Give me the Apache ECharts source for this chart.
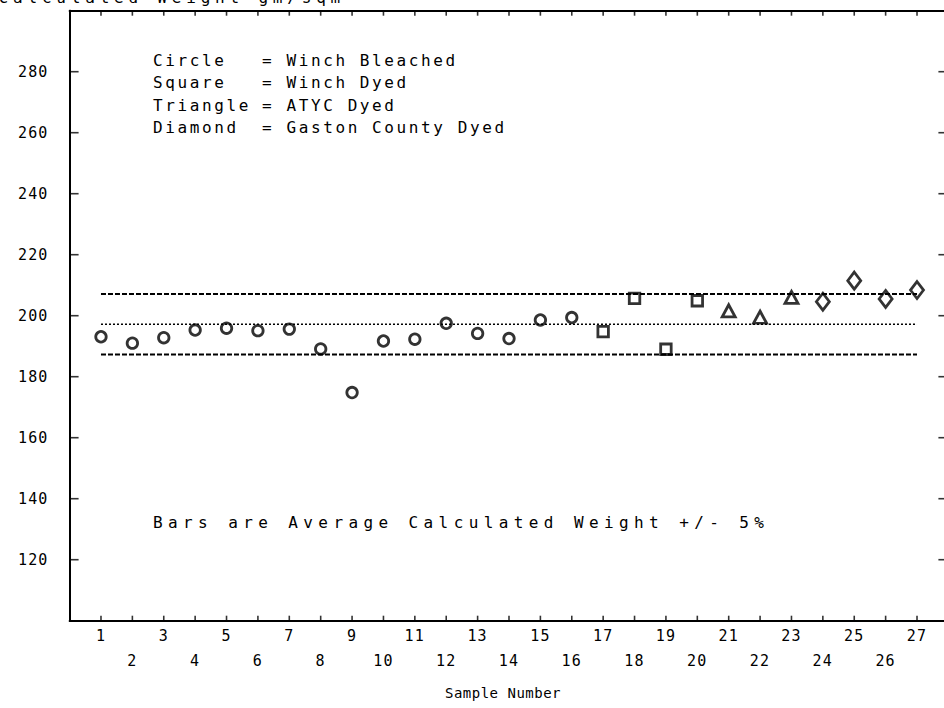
<!DOCTYPE html>
<html><head><meta charset="utf-8">
<script src="https://cdn.jsdelivr.net/npm/echarts@6/dist/echarts.min.js"></script>
<style>html,body{margin:0;padding:0;background:#fff}#c{width:944px;height:708px}</style>
</head><body><div id="c"></div>
<script>
// ---- data ----
const sampleNumbers = [1,2,3,4,5,6,7,8,9,10,11,12,13,14,15,16,17,18,19,20,21,22,23,24,25,26,27];
const circleSamples = [1,2,3,4,5,6,7,8,9,10,11,12,13,14,15,16];
const circleWeights = [193.1,191.0,192.8,195.3,195.9,195.1,195.6,189.1,174.8,191.7,192.3,197.5,194.2,192.5,198.6,199.4];
const squareSamples = [17,18,19,20];
const squareWeights = [194.8,205.7,189.0,204.9];
const triangleSamples = [21,22,23];
const triangleWeights = [201.6,199.5,206.0];
const diamondSamples = [24,25,26,27];
const diamondWeights = [204.6,211.5,205.5,208.4];
const averageWeight = 197.2;
const upperBar = 207.1;
const lowerBar = 187.3;
const barStart = 1, barEnd = 27;
const xMin = 0, xMax = 28, yMin = 100, yMax = 300;
const yTickLabels = [120,140,160,180,200,220,240,260,280];
const legendNames = ['Circle','Square','Triangle','Diamond'];
const legendMeanings = ['= Winch Bleached','= Winch Dyed','= ATYC Dyed','= Gaston County Dyed'];
const noteText = 'Bars are Average Calculated Weight +/- 5%';
const titleText = 'Calculated Weight gm/sqm';
const xAxisTitle = 'Sample Number';

const FONT = '"DejaVu Sans Mono", "Liberation Mono", monospace';
const INK = '#000';
const zip = (xs, ys) => xs.map((x, i) => [x, ys[i]]);

const chart = echarts.init(document.getElementById('c'), null, {renderer: 'svg'});

function pointSeries(name, xs, ys, symbol, size) {
  return {
    name, type: 'scatter', data: zip(xs, ys), symbol, symbolSize: size,
    itemStyle: {color: 'rgba(255,255,255,0)', borderColor: INK, borderWidth: 2.8},
    emphasis: {disabled: true}, z: 5, animation: false
  };
}
function barSeries(v, dash, width) {
  return {
    type: 'line', data: [[barStart, v], [barEnd, v]], symbol: 'none', silent: true,
    lineStyle: {color: INK, width, type: dash}, z: 3, animation: false
  };
}
// inward tick marks, placed through the axes' own scales
function tickSeries(points, size, offset) {
  return {
    type: 'scatter', data: points, symbol: 'rect', symbolSize: size, symbolOffset: offset,
    itemStyle: {color: INK}, silent: true, clip: false, z: 6, animation: false
  };
}

const graphics = [];
legendNames.forEach((n, i) => {
  const y = 60 + i * 22.5;
  graphics.push({type: 'text', x: 153, y, style: {text: n, font: '16px ' + FONT, fill: INK, textVerticalAlign: 'middle', verticalAlign: 'middle'}});
  graphics.push({type: 'text', x: 262, y, style: {text: legendMeanings[i], font: '16px ' + FONT, fill: INK, textVerticalAlign: 'middle', verticalAlign: 'middle'}});
});
graphics.push({type: 'text', x: 153, y: 522, style: {text: noteText, font: '16px ' + FONT, fill: INK, textVerticalAlign: 'middle', verticalAlign: 'middle'}});
graphics.push({type: 'text', x: 345, y: 5, style: {text: titleText, font: '16px ' + FONT, fill: INK, textAlign: 'right', align: 'right', textVerticalAlign: 'bottom', verticalAlign: 'bottom'}});
graphics.push({type: 'text', x: 503, y: 693, style: {text: xAxisTitle, font: '14px ' + FONT, fill: INK, textAlign: 'center', align: 'center', textVerticalAlign: 'middle', verticalAlign: 'middle'}});

const axisLine = {show: true, lineStyle: {color: INK, width: 2}};
chart.setOption({
  animation: false,
  backgroundColor: '#fff',
  grid: {left: 69.6, top: 10.7, width: 878.8, height: 610, containLabel: false, outerBoundsMode: 'none'},
  xAxis: [
    {type: 'value', min: xMin, max: xMax, interval: 1, position: 'bottom', axisLine, axisTick: {show: false},
     splitLine: {show: false},
     axisLabel: {color: INK, fontFamily: FONT, fontSize: 15, margin: 3, lineHeight: 25,
       formatter: v => sampleNumbers.includes(v) ? (v % 2 === 1 ? String(v) : '\n' + v) : ''}},
    {type: 'value', min: xMin, max: xMax, interval: 1, position: 'top', axisLine, axisTick: {show: false},
     splitLine: {show: false}, axisLabel: {show: false}}
  ],
  yAxis: [
    {type: 'value', min: yMin, max: yMax, interval: 20, position: 'left', axisLine, axisTick: {show: false},
     splitLine: {show: false},
     axisLabel: {color: INK, fontFamily: FONT, fontSize: 15, margin: 21,
       formatter: v => yTickLabels.includes(v) ? String(v) : ''}},
    {type: 'value', min: yMin, max: yMax, interval: 20, position: 'right', axisLine, axisTick: {show: false},
     splitLine: {show: false}, axisLabel: {show: false}}
  ],
  series: [
    barSeries(upperBar, [5, 2], 2),
    barSeries(averageWeight, [2, 2], 1.5),
    barSeries(lowerBar, [5, 2], 2),
    pointSeries('Circle', circleSamples, circleWeights, 'circle', 10.5),
    pointSeries('Square', squareSamples, squareWeights, 'rect', 10.5),
    pointSeries('Triangle', triangleSamples, triangleWeights, 'triangle', [13, 12]),
    pointSeries('Diamond', diamondSamples, diamondWeights, 'diamond', [13, 17]),
    tickSeries(sampleNumbers.map(s => [s, yMin]), [1.6, 5], [0, -2.5]),
    tickSeries(sampleNumbers.map(s => [s, yMax]), [1.6, 5], [0, 2.5]),
    tickSeries(yTickLabels.map(v => [xMin, v]), [9, 1.6], [4.5, 0]),
    tickSeries(yTickLabels.map(v => [xMax, v]), [10, 1.6], [-5, 0])
  ],
  graphic: graphics
});

// widen the plotter-style lettering
function spacingFor(t) {
  if (t === noteText) return '5.4px';
  if (t === titleText) return '4.8px';
  if (t === xAxisTitle) return '0.5px';
  if (legendNames.includes(t) || legendMeanings.includes(t)) return '2.6px';
  if (/^\d+$/.test(t.trim())) return '1.2px';
  return null;
}
document.querySelectorAll('#c svg text').forEach(el => {
  const s = spacingFor(el.textContent);
  if (s) el.style.letterSpacing = s;
});
</script></body></html>
